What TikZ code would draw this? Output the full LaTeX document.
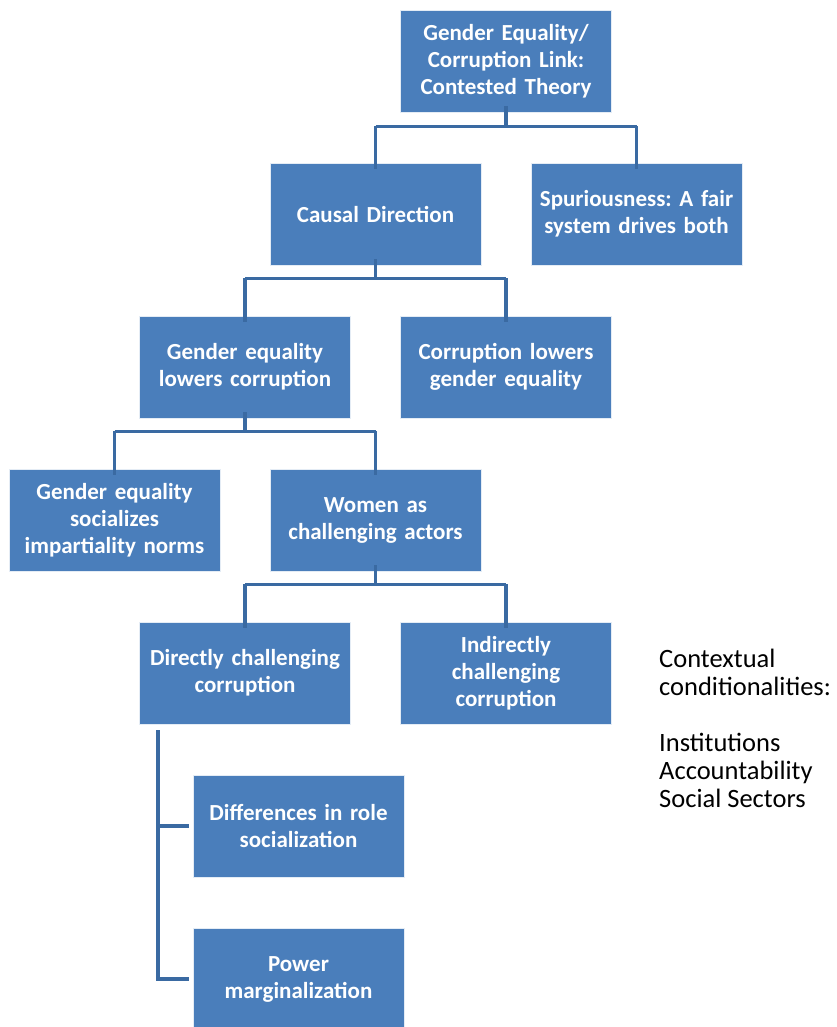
\documentclass[tikz,border=0pt]{standalone}
\usepackage{fontspec}
\setmainfont{Carlito}
\frenchspacing
\definecolor{boxblue}{HTML}{4A7EBB}
\definecolor{lineblue}{HTML}{3A6AA2}
\begin{document}
\begin{tikzpicture}[x=1pt,y=-1pt,
  box/.style={fill=boxblue,draw=white!85!boxblue,line width=0.8pt,minimum width=211pt,minimum height=102pt,
    text width=209pt,align=center,text=white,font=\fontsize{23}{27}\selectfont\bfseries,inner sep=0pt},
  conn/.style={draw=lineblue,line width=3.5pt}]
\useasboundingbox (0,0) rectangle (837,1027);
\node[box] (top) at (506,61) {Gender Equality/\\Corruption Link:\\Contested Theory};
\node[box] (causal) at (375.5,214) {Causal Direction};
\node[box] (spur) at (636.5,214) {Spuriousness: A fair\\system drives both};
\node[box] (gel) at (245,367) {Gender equality\\lowers corruption};
\node[box] (clg) at (506,367) {Corruption lowers\\gender equality};
\node[box] (ges) at (114.5,520) {Gender equality\\socializes\\impartiality norms};
\node[box] (women) at (375.5,520) {Women as\\challenging actors};
\node[box] (direct) at (245,673) {Directly challenging\\corruption\\[6pt]};
\node[box] (indirect) at (506,673) {Indirectly\\challenging\\corruption};
\node[box] (diff) at (298.5,826) {Differences in role\\socialization};
\node[box] (power) at (298.5,979) {Power\\marginalization};
\node[anchor=north west,align=left,inner sep=0pt,font=\fontsize{26.5}{28}\selectfont] (ctx) at (659,649)
  {Contextual\\conditionalities:\\[28pt]Institutions\\Accountability\\Social Sectors};
% connectors
\draw[conn] ([yshift=6pt]top.south) -- ++(0,20) coordinate (j1);
\draw[conn] (causal.north |- j1) -- (spur.north |- j1);
\draw[conn] (causal.north |- j1) -- ([yshift=-6pt]causal.north);
\draw[conn] (spur.north |- j1) -- ([yshift=-6pt]spur.north);
\draw[conn] ([yshift=6pt]causal.south) -- ++(0,19) coordinate (j2);
\draw[conn] (gel.north |- j2) -- (clg.north |- j2);
\draw[conn] (gel.north |- j2) -- ([yshift=-6pt]gel.north);
\draw[conn] (clg.north |- j2) -- ([yshift=-6pt]clg.north);
\draw[conn] ([yshift=6pt]gel.south) -- ++(0,19) coordinate (j3);
\draw[conn] (ges.north |- j3) -- (women.north |- j3);
\draw[conn] (ges.north |- j3) -- ([yshift=-6pt]ges.north);
\draw[conn] (women.north |- j3) -- ([yshift=-6pt]women.north);
\draw[conn] ([yshift=6pt]women.south) -- ++(0,19) coordinate (j4);
\draw[conn] (direct.north |- j4) -- (indirect.north |- j4);
\draw[conn] (direct.north |- j4) -- ([yshift=-6pt]direct.north);
\draw[conn] (indirect.north |- j4) -- ([yshift=-6pt]indirect.north);
\coordinate (v) at (158,730);
\draw[conn] (v) -- (v |- power.west) -- ([xshift=-4pt]power.west);
\draw[conn] (v |- diff.west) -- ([xshift=-4pt]diff.west);
\end{tikzpicture}
\end{document}
